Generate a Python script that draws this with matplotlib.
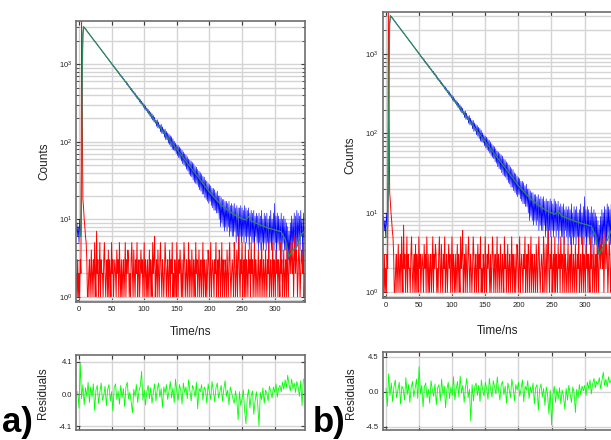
import numpy as np
import matplotlib
matplotlib.use('Agg')
import matplotlib.pyplot as plt
from matplotlib.ticker import LogLocator, NullFormatter

plt.rcParams['font.family'] = ['Liberation Sans', 'DejaVu Sans']

# decay (blue) and IRF (red), one value per ns channel starting at t = -4 ns
decay = [7, 9, 6, 8, 5, 10, 7, 6, 30, 700,
         2300, 3050, 3000, 2930, 2850, 2790, 2700, 2650, 2570, 2510,
         2450, 2370, 2330, 2250, 2210, 2140, 2100, 2030, 2000, 1930,
         1900, 1835, 1805, 1740, 1715, 1655, 1630, 1570, 1550, 1490,
         1475, 1420, 1400, 1345, 1330, 1280, 1265, 1215, 1200, 1150,
         1145, 1095, 1090, 1040, 1035, 985, 980, 940, 935, 890,
         895, 840, 850, 795, 810, 755, 770, 715, 730, 680,
         700, 650, 655, 640, 605, 590, 605, 550, 575, 530,
         545, 500, 515, 470, 490, 450, 468, 425, 445, 405,
         425, 385, 400, 362, 385, 345, 368, 325, 350, 310,
         335, 296, 318, 278, 302, 262, 290, 250, 275, 238,
         262, 226, 250, 212, 240, 200, 230, 190, 218, 180,
         208, 172, 190, 158, 192, 150, 180, 148, 166, 134,
         168, 128, 156, 126, 146, 114, 146, 106, 136, 106,
         130, 96, 126, 92, 120, 86, 116, 80, 110, 78,
         102, 76, 96, 70, 92, 66, 90, 62, 86, 60,
         82, 56, 78, 52, 74, 50, 70, 48, 68, 44,
         64, 42, 60, 38, 58, 36, 56, 35, 54, 32,
         52, 30, 48, 29, 47, 28, 44, 26, 42, 24,
         40, 23, 38, 21, 36, 21, 35, 19, 32, 18,
         31, 17, 29, 16, 28, 17, 27, 15, 25, 14,
         25, 13, 24, 13, 22, 12, 23, 12, 20, 10,
         20, 8, 19, 9, 18, 8, 18, 7, 17, 8,
         17, 7, 16, 8, 17, 6, 15, 7, 16, 6,
         15, 6, 16, 7, 14, 5, 15, 6, 14, 3,
         14, 6, 15, 5, 14, 6, 13, 5, 15, 6,
         14, 5, 13, 6, 14, 4, 12, 6, 13, 5,
         12, 5, 13, 4, 11, 6, 12, 5, 11, 4,
         12, 5, 11, 4, 13, 5, 10, 4, 12, 5,
         11, 4, 12, 5, 10, 3, 11, 5, 13, 4,
         10, 5, 12, 4, 16, 5, 11, 3, 12, 5,
         11, 4, 10, 5, 12, 3, 10, 5, 11, 4,
         10, 4, 9, 3, 8, 3, 7, 3, 9, 4,
         11, 4, 10, 5, 12, 3, 11, 4, 13, 5,
         12, 5, 11, 4, 13, 6, 10, 3, 12, 5,
         8]

irf = [2, 1, 3, 1, 2, 1, 3, 2, 3600, 250,
       18, 14, 10, 8, 6, 5, 3, 1, 1, 2,
       3, 1, 2, 4, 1, 2, 3, 1, 5, 2,
       1, 7, 2, 3, 1, 2, 5, 1, 3, 2,
       2, 1, 3, 5, 2, 1, 2, 3, 1, 4,
       1, 3, 2, 1, 5, 2, 3, 1, 2, 3,
       2, 1, 4, 2, 3, 1, 5, 2, 1, 3,
       1, 2, 3, 1, 2, 5, 1, 3, 2, 4,
       3, 1, 2, 1, 3, 5, 2, 1, 4, 2,
       1, 3, 2, 5, 1, 2, 3, 1, 2, 4,
       2, 3, 1, 2, 5, 1, 3, 2, 1, 3,
       1, 2, 4, 1, 3, 2, 1, 5, 2, 3,
       6, 1, 2, 3, 1, 4, 2, 1, 3, 5,
       2, 1, 3, 2, 1, 2, 5, 3, 1, 2,
       3, 1, 2, 4, 1, 3, 2, 5, 1, 2,
       1, 3, 2, 1, 5, 2, 1, 3, 2, 4,
       2, 1, 3, 1, 2, 5, 3, 1, 2, 3,
       1, 2, 5, 1, 3, 2, 1, 4, 2, 1,
       3, 2, 1, 5, 2, 3, 1, 2, 4, 1,
       2, 3, 1, 2, 5, 1, 3, 2, 1, 3,
       1, 2, 4, 3, 1, 2, 5, 1, 2, 3,
       2, 1, 3, 2, 5, 1, 2, 3, 1, 4,
       3, 1, 2, 5, 1, 3, 2, 1, 3, 2,
       1, 4, 2, 1, 3, 5, 2, 1, 2, 3,
       2, 1, 5, 3, 1, 2, 4, 1, 3, 6,
       2, 1, 3, 2, 5, 1, 2, 3, 1, 5,
       1, 3, 2, 1, 4, 2, 3, 1, 5, 2,
       3, 1, 2, 5, 1, 3, 2, 1, 2, 4,
       1, 2, 3, 1, 5, 2, 1, 3, 2, 1,
       4, 2, 1, 3, 2, 5, 1, 2, 3, 1,
       2, 5, 1, 3, 2, 1, 4, 2, 3, 1,
       3, 2, 1, 5, 2, 3, 1, 2, 4, 1,
       2, 3, 1, 5, 2, 1, 3, 4, 2, 5,
       3, 2, 5, 1, 3, 6, 2, 4, 3, 1,
       2, 5, 3, 1, 2, 4, 3, 2, 5, 1,
       2]

# fitted curves (green)
fit_t = [2, 3, 4, 5, 6, 7, 10, 20, 30, 40, 50, 60, 70, 80, 90, 100, 110, 120, 130,
         140, 150, 160, 170, 180, 190, 200, 210, 220, 230, 240, 250, 255, 260, 265,
         270, 280, 290, 300, 310, 316, 322, 328, 334, 340, 346]
fit_a = [6, 7.5, 40, 800, 2500, 3050, 2850, 2200, 1710, 1320, 1020, 790, 615, 475, 368,
         285, 221, 171, 132, 102, 80, 62, 48, 37.5, 29, 22.5, 18, 14.8, 12.8, 11.2, 10.2,
         9.8, 10.8, 9.4, 9.0, 8.3, 7.7, 7.3, 6.9, 5.5, 3.3, 4.0, 4.4, 6.3, 7.0]
fit_b = [5, 7, 35, 750, 2450, 3000, 2830, 2190, 1700, 1315, 1015, 785, 612, 472, 366,
         284, 220, 170, 131, 101, 79, 61, 47.5, 37, 28.5, 22, 17.8, 14.6, 12.6, 11.0, 10.0,
         9.6, 10.5, 9.2, 8.8, 8.2, 7.6, 7.2, 6.8, 5.2, 3.0, 3.8, 4.5, 6.0, 6.8]

# weighted residuals, every 2 ns
res_a = [0.3, -1.8, 3.9, -0.6, 1.2, -1.4, 0.8, -0.3, 1.5, -1.1,
         0.9, -0.4, 1.3, -2.1, 0.5, 1.1, -1.2, 0.2, 1.4, -0.8,
         -0.2, 1.0, -1.5, 0.6, 1.2, -0.9, 0.3, -2.2, 0.8, 1.3,
         -0.7, 0.4, -1.3, 1.1, -0.5, 0.7, -1.6, 0.9, 1.5, -0.6,
         0.2, -1.0, -2.4, 0.6, -0.3, 1.2, -1.1, 0.4, 1.0, 2.9,
         -0.8, 0.5, -1.4, 0.3, 1.1, -0.6, 0.8, -1.2, 0.2, 1.3,
         -0.9, 0.6, 1.4, -0.4, 0.7, -1.7, 0.9, 0.1, 1.2, -0.7,
         0.4, 1.6, -0.5, 0.8, -1.1, 1.9, 0.3, -0.8, 1.2, 0.5,
         -1.3, 1.4, 0.2, 0.9, -0.6, 1.8, 0.4, -0.9, 1.1, 0.6,
         -0.4, 1.5, -1.9, 0.7, 0.3, 1.2, -0.8, 0.9, 0.5, -1.2,
         1.3, 0.2, -0.7, 1.6, 0.4, -1.0, 0.8, 1.4, -0.5, 0.3,
         1.1, -0.9, 0.6, 1.7, -0.3, 0.5, -1.4, 0.9, 0.2, -0.6,
         -1.2, 0.4, -0.8, -3.3, 0.3, -1.5, -0.6, 0.5, -2.2, -3.8,
         -0.4, 0.6, -1.8, -0.2, 0.4, -2.6, -0.9, 0.3, -1.3, -4.1,
         0.2, -0.7, 0.8, -1.2, 0.5, 0.1, -0.9, 1.0, 0.3, -0.5,
         0.9, 0.2, 1.3, -0.4, 0.7, 1.1, 0.3, 1.5, 0.6, 1.8,
         0.8, 2.4, 1.2, 0.4, 1.9, 0.7, 1.4, 0.2, 1.6, 0.9,
         -0.3, 1.7, -1.5, 1.9]
res_b = [0.4, -1.9, 2.3, -0.5, 1.1, -1.3, 0.6, 1.5, -0.8, 0.2,
         1.2, -1.6, 0.7, 0.3, -1.1, 1.8, -0.4, 0.9, -1.4, 0.5,
         1.3, -0.7, 0.4, 1.6, -0.9, 3.2, -0.3, 0.8, -2.0, 0.6,
         1.1, -0.8, 0.3, -1.5, 1.4, 0.2, -0.6, 1.0, -1.7, 0.5,
         0.9, -1.2, 1.6, -0.4, 0.7, -2.1, 0.3, 1.2, -0.9, 0.6,
         -0.5, 1.9, -1.1, 0.4, 1.3, -0.7, 2.0, -0.2, 0.8, -1.4,
         0.5, 1.7, -0.8, 0.3, -3.8, 0.9, -1.2, 0.6, 1.1, -0.5,
         0.8, -1.3, 1.5, 0.2, -0.6, 1.2, 0.4, -1.0, 1.7, 0.3,
         -0.7, 1.4, 0.6, -0.3, 1.9, 0.2, -1.1, 0.9, 1.3, -0.4,
         0.7, -1.5, 1.1, 0.3, -0.8, 1.6, 0.5, -1.2, 0.9, 0.2,
         1.2, -0.6, 0.4, 1.5, -1.3, 0.7, 0.2, 1.4, -0.9, 0.6,
         -0.2, 1.1, -1.6, 0.5, 0.9, -2.4, 0.3, 1.0, -0.7, 0.4,
         -1.8, 0.6, -0.4, -2.9, 0.2, -4.3, -0.5, 0.7, -1.4, 0.3,
         -0.9, 0.5, -1.6, 0.2, -0.6, -2.3, 0.4, -1.1, 0.8, -0.3,
         -1.4, 0.6, -0.2, -2.7, 0.3, -0.8, 0.9, -0.4, 0.7, 0.1,
         0.8, -0.5, 1.2, 0.4, 1.5, -0.3, 1.0, 1.7, 0.5, 1.3,
         0.9, 1.8, 0.4, 1.4, 2.5, 0.8, 1.6, 0.6, 1.9, 1.1,
         1.5, 0.7, 2.2]

xticks = [0, 50, 100, 150, 200, 250, 300]

W, H = 611, 440
fig = plt.figure(figsize=(W / 100, H / 100), dpi=100)


def box(l, t, r, b):
    # pixel box -> figure fraction
    return [l / W, 1 - b / H, (r - l) / W, (b - t) / H]


def style(ax):
    for s in ax.spines.values():
        s.set_color('#6e6e6e')
        s.set_linewidth(1.2)
    ax.set_axisbelow(True)
    ax.tick_params(which='both', direction='in', top=True, right=True,
                   color='#3c3c3c', labelsize=5.5, labelcolor='#222222', pad=3)
    ax.tick_params(which='major', length=3, width=0.8)
    ax.tick_params(which='minor', length=2, width=0.6)


def main_panel(ax, fit, xlim, ylim):
    t = np.arange(-4, -4 + len(decay))
    ax.plot(t, decay, color='#0000ff', lw=0.45)
    ax.plot(t, irf, color='#ff0000', lw=0.7)
    ax.plot(fit_t, fit, color='#2e8b57', lw=0.9)
    ax.set_yscale('log')
    ax.set_xlim(xlim)
    ax.set_ylim(ylim)
    ax.set_xticks(xticks)
    ax.yaxis.set_major_locator(LogLocator(base=10, numticks=10))
    ax.yaxis.set_minor_locator(LogLocator(base=10, subs=np.arange(2, 10), numticks=20))
    ax.yaxis.set_minor_formatter(NullFormatter())
    ax.grid(True, which='both', axis='y', color='#d4d4d4', lw=1)
    ax.grid(True, which='major', axis='x', color='#d4d4d4', lw=1)
    style(ax)


def res_panel(ax, t0, res, xlim, ylim, lim):
    t = np.arange(t0, t0 + 2 * len(res), 2)
    ax.plot(t, res, color='#00ff00', lw=0.6)
    ax.set_xlim(xlim)
    ax.set_ylim(ylim)
    ax.set_xticks(xticks)
    ax.set_xticklabels([])
    ax.set_yticks([-lim, 0, lim])
    ax.set_yticklabels(['-%.1f' % lim, '0.0', '%.1f' % lim])
    ax.grid(True, color='#d4d4d4', lw=1)
    style(ax)


ax1 = fig.add_axes(box(76.3, 20.7, 305, 301.7))
main_panel(ax1, fit_a, (-4.1, 346.5), (0.862, 3650))
ax2 = fig.add_axes(box(76.3, 354.5, 305, 430))
res_panel(ax2, -2, res_a, (-4.1, 346.5), (-4.6, 5.05), 4.1)

ax3 = fig.add_axes(box(382.7, 11.7, 615.5, 297.7))
main_panel(ax3, fit_b, (-4.5, 346.5), (0.855, 3410))
ax4 = fig.add_axes(box(383, 352, 615.5, 430))
res_panel(ax4, 0, res_b, (-4.5, 346.5), (-4.95, 5.1), 4.5)

lab = dict(fontsize=8.5, color='#222222', ha='center', va='center')
fig.text(44 / W, 1 - 161.7 / H, 'Counts', rotation=90, **lab)
fig.text(191 / W, 1 - 331.7 / H, 'Time/ns', **lab)
fig.text(43 / W, 1 - 393 / H, 'Residuals', rotation=90, **lab)
fig.text(350.7 / W, 1 - 155 / H, 'Counts', rotation=90, **lab)
fig.text(498 / W, 1 - 331 / H, 'Time/ns', **lab)
fig.text(351 / W, 1 - 393 / H, 'Residuals', rotation=90, **lab)

fig.text(2 / W, 1 - 432 / H, 'a)', fontsize=25, fontweight='bold', ha='left', va='baseline')
fig.text(313 / W, 1 - 432 / H, 'b)', fontsize=25, fontweight='bold', ha='left', va='baseline')

fig.savefig('out.png', dpi=100)
